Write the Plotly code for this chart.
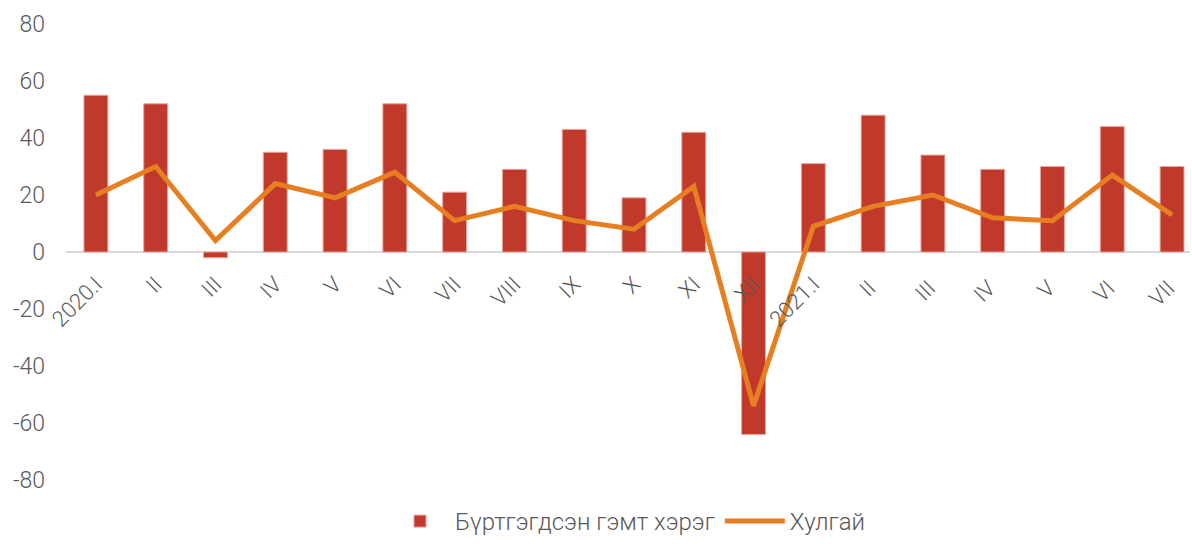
import plotly.graph_objects as go

categories = ["2020.I", "II", "III", "IV", "V", "VI", "VII", "VIII", "IX", "X", "XI", "XII",
              "2021.I", "II ", "III ", "IV ", "V ", "VI ", "VII "]
crimes = [55, 52, -2, 35, 36, 52, 21, 29, 43, 19, 42, -64, 31, 48, 34, 29, 30, 44, 30]
theft = [20, 30, 4, 24, 19, 28, 11, 16, 11, 8, 23, -54, 9, 16, 20, 12, 11, 27, 13]
y_ticks = [-80, -60, -40, -20, 0, 20, 40, 60, 80]
y_labels = ["-80", "-60", "-40", "-20", "0", "20", "40", "60", "80"]

GREY = "#595959"
FONT = "Roboto Light, Roboto"

fig = go.Figure()
fig.add_trace(go.Bar(
    x=categories, y=crimes, name="Бүртгэгдсэн гэмт хэрэг",
    marker=dict(color="#c0392b", line=dict(color="#e8a49c", width=1)),
    width=0.4,
))
fig.add_trace(go.Scatter(
    x=categories, y=theft, name="Хулгай", mode="lines",
    line=dict(color="#e67e22", width=5),
))

fig.update_layout(
    width=1192, height=544,
    margin=dict(l=66, r=2, t=24, b=64),
    plot_bgcolor="white", paper_bgcolor="white",
    font=dict(family=FONT, size=22, color=GREY, weight=300),
    showlegend=True,
    legend=dict(orientation="h", x=0.5, xanchor="center",
                yref="container", y=-0.02, yanchor="bottom",
                font=dict(family=FONT, size=24, color=GREY, weight=300),
                itemwidth=60, traceorder="normal"),
    xaxis=dict(
        type="category", range=[-0.5, 18.3],
        anchor="free", position=0.5, automargin=False,
        showline=False, showgrid=False, zeroline=False, ticks="", tickangle=-45,
        tickfont=dict(family=FONT, size=22, color=GREY, weight=300),
        ticklabelstandoff=14, layer="above traces",
    ),
    yaxis=dict(
        range=[-80, 80], tickvals=y_ticks, ticktext=y_labels,
        showgrid=False, zeroline=True, zerolinecolor="#d9d9d9", zerolinewidth=2,
        showline=False, ticks="", automargin=False,
        tickfont=dict(family=FONT, size=23, color=GREY, weight=300),
        ticklabelstandoff=20, domain=[0, 1],
    ),
)

# drop the browser's default body margin so the figure fills the window exactly
fig.write_html("out.html", config={"displayModeBar": False},
               post_script="document.body.style.margin='0';")
